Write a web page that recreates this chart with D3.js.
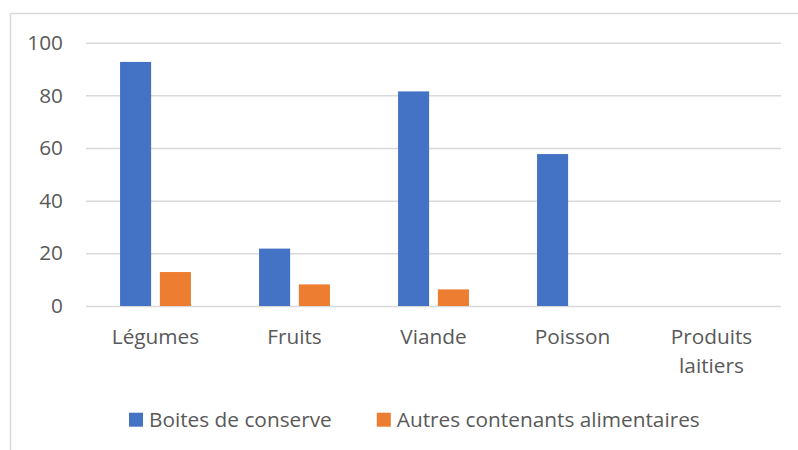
<!DOCTYPE html>
<html lang="fr">
<head>
    <meta charset="UTF-8">
    <script src="https://cdn.jsdelivr.net/npm/d3@7/dist/d3.min.js"></script>
    <title>Contenants</title>
    <style>
        body { margin: 0; background: #fff; }
        text { font-family: "Open Sans", sans-serif; fill: #595959; }
    </style>
</head>
<body>
<script>
    // donnees
    let categories = ["Légumes", "Fruits", "Viande", "Poisson", "Produits laitiers"]
    let series = ["Boites de conserve", "Autres contenants alimentaires"]
    let boites = [92.7, 21.8, 81.5, 57.7, 0]
    let autres = [12.9, 8.2, 6.3, 0, 0]
    let yTicks = [0, 20, 40, 60, 80, 100]
    let colors = ["#4472C4", "#ED7D31"]

    const W = 798, H = 450
    const FS = 20.8
    const svg = d3.select("body").append("svg").attr("width", W).attr("height", H)

    // cadre du graphique (seuls les bords haut et gauche sont visibles)
    svg.append("line").attr("x1", 10.5).attr("y1", 13.5).attr("x2", W).attr("y2", 13.5)
        .attr("stroke", "#d9d9d9").attr("stroke-width", 1.5)
    svg.append("line").attr("x1", 10.5).attr("y1", 13.5).attr("x2", 10.5).attr("y2", H)
        .attr("stroke", "#d9d9d9").attr("stroke-width", 1.5)

    const plot = {left: 86, right: 781, top: 42.7, bottom: 306}

    const y = d3.scaleLinear().domain([0, 100]).range([plot.bottom, plot.top])
    const x0 = d3.scaleBand().domain(categories).range([plot.left, plot.right])
        .paddingInner(0.49).paddingOuter(0.245)
    const x1 = d3.scaleBand().domain(series).range([0, x0.bandwidth()]).paddingInner(0.22)

    // grille + etiquettes de l'axe y
    const yAxis = d3.axisLeft(y).tickValues(yTicks).tickSize(-(plot.right - plot.left)).tickPadding(23)
    const gy = svg.append("g").attr("transform", "translate(" + plot.left + ",0)").call(yAxis)
    gy.select(".domain").remove()
    gy.selectAll(".tick line").attr("stroke", "#d9d9d9").attr("stroke-width", 1.5)
    gy.selectAll(".tick text").attr("font-size", FS).style("font-family", "Open Sans").attr("fill", "#595959")

    // barres
    let rows = categories.map((c, i) => ({cat: c, vals: [boites[i], autres[i]]}))
    const groups = svg.selectAll(".grp").data(rows).enter().append("g")
        .attr("transform", d => "translate(" + x0(d.cat) + ",0)")
    groups.selectAll("rect").data(d => d.vals.map((v, j) => ({s: series[j], v: v, j: j})))
        .enter().append("rect")
        .filter(d => d.v > 0)
        .attr("x", d => x1(d.s))
        .attr("width", x1.bandwidth())
        .attr("y", d => y(d.v))
        .attr("height", d => y(0) - y(d.v))
        .attr("fill", d => colors[d.j])

    // etiquettes de l'axe x (retour a la ligne si trop long)
    const xl = svg.append("g")
    categories.forEach(c => {
        let words = c.split(" ")
        let t = xl.append("text").attr("text-anchor", "middle").attr("font-size", FS)
        words.forEach((w, k) => {
            t.append("tspan").attr("x", x0(c) + x0.bandwidth() / 2)
                .attr("y", 344 + k * 29).text(w)
        })
    })

    // legende
    const leg = svg.append("g")
    let lx = 129
    series.forEach((s, j) => {
        leg.append("rect").attr("x", lx).attr("y", 412.7).attr("width", 14).attr("height", 14).attr("fill", colors[j])
        let t = leg.append("text").attr("x", lx + 20).attr("y", 426.5).attr("font-size", FS).text(s)
        lx = lx + 20 + t.node().getComputedTextLength() + 45
    })
</script>
</body>
</html>
